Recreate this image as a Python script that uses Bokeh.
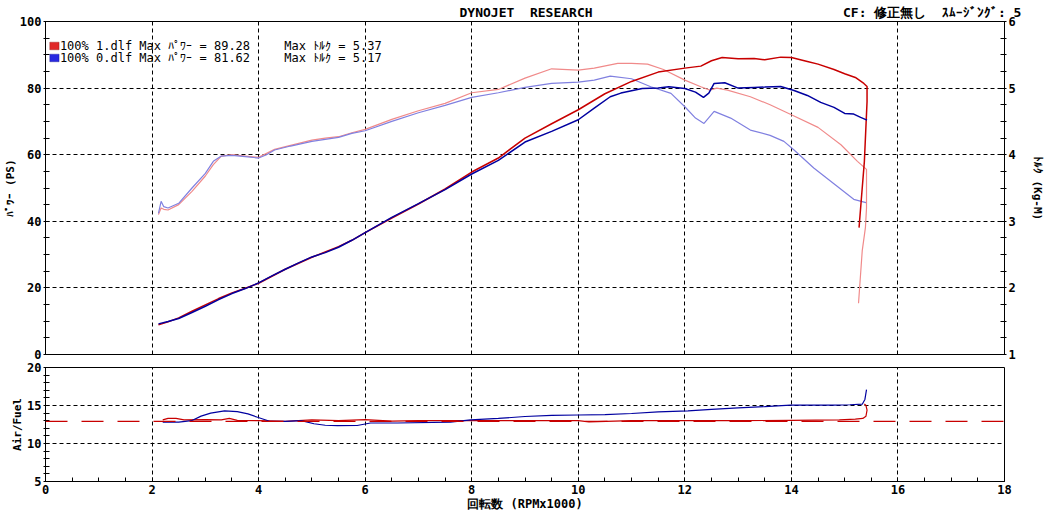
from bokeh.plotting import figure
from bokeh.models import Range1d, LinearAxis, FixedTicker, Label, BoxAnnotation, Span, Grid, Title
from bokeh.layouts import column
from bokeh.embed import file_html
from bokeh.resources import INLINE

# ---------------- data ----------------
x_ticks = [0, 2, 4, 6, 8, 10, 12, 14, 16, 18]
power_ticks = [0, 20, 40, 60, 80, 100]
torque_ticks = [1, 2, 3, 4, 5, 6]
af_ticks = [5, 10, 15, 20]

run_names = ["100% 1.dlf", "100% 0.dlf"]
max_power = [89.28, 81.62]
max_torque = [5.37, 5.17]
af_target = 12.9

pw1_rpm = [2.12, 2.3, 2.5, 2.75, 3.0, 3.25, 3.5, 3.75, 4.0, 4.25, 4.5, 4.75, 5.0, 5.25, 5.5, 5.75,
           6.0, 6.5, 7.0, 7.5, 8.0, 8.5, 9.0, 9.5, 10.0, 10.5, 11.0, 11.5, 12.0, 12.3, 12.5, 12.7,
           13.0, 13.3, 13.5, 13.8, 14.0, 14.3, 14.5, 14.8, 15.0, 15.2, 15.36, 15.42, 15.42, 15.37,
           15.31, 15.27]
pw1 = [8.9, 9.8, 11.0, 13.0, 14.9, 16.8, 18.5, 19.9, 21.4, 23.5, 25.6, 27.4, 29.2, 30.8, 32.4, 34.3,
       36.6, 41.0, 45.2, 49.7, 54.8, 59.0, 65.0, 69.3, 73.5, 78.3, 82.0, 84.8, 86.0, 86.6, 88.2, 89.2,
       88.8, 88.9, 88.5, 89.3, 89.2, 88.0, 87.2, 85.6, 84.3, 83.2, 81.4, 80.5, 75.9, 58.0,
       46.1, 38.1]

pw0_rpm = [2.12, 2.3, 2.5, 2.75, 3.0, 3.25, 3.5, 3.75, 4.0, 4.25, 4.5, 4.75, 5.0, 5.25, 5.5, 5.75,
           6.0, 6.5, 7.0, 7.5, 8.0, 8.5, 9.0, 9.5, 10.0, 10.3, 10.6, 10.8, 11.2, 11.5, 11.7, 12.0,
           12.2, 12.35, 12.45, 12.55, 12.75, 13.0, 13.3, 13.5, 13.8, 14.05, 14.3, 14.55, 14.8, 15.0,
           15.17, 15.3, 15.42]
pw0 = [9.2, 9.9, 10.8, 12.6, 14.5, 16.5, 18.3, 19.8, 21.5, 23.6, 25.6, 27.5, 29.3, 30.6, 32.2, 34.3,
       36.6, 41.2, 45.3, 49.5, 54.2, 58.3, 63.8, 67.0, 70.5, 74.0, 77.4, 78.5, 79.9, 80.0, 80.4, 79.9,
       78.8, 77.2, 78.5, 81.4, 81.6, 80.0, 80.2, 80.3, 80.5, 79.3, 77.8, 75.7, 74.2, 72.4,
       72.2, 71.2, 70.4]

tq1_rpm = [2.12, 2.17, 2.22, 2.3, 2.5, 2.75, 3.0, 3.15, 3.3, 3.5, 3.75, 4.0, 4.15, 4.3, 4.6, 5.0,
           5.25, 5.5, 5.75, 6.0, 6.5, 7.0, 7.5, 8.0, 8.5, 9.0, 9.5, 10.0, 10.3, 10.74, 11.0, 11.3,
           11.6, 12.0, 12.3, 12.47, 12.6, 12.8, 13.23, 13.6, 14.0, 14.5, 14.93, 15.24, 15.41, 15.41,
           15.39, 15.33, 15.26]
tq1 = [3.1, 3.2, 3.18, 3.17, 3.25, 3.45, 3.68, 3.85, 3.98, 4.0, 3.98, 3.96, 4.02, 4.08, 4.14, 4.22,
       4.25, 4.27, 4.33, 4.38, 4.53, 4.66, 4.77, 4.93, 4.98, 5.15, 5.29, 5.27, 5.3, 5.37, 5.37, 5.36,
       5.28, 5.12, 5.02, 4.97, 5.0, 4.97, 4.87, 4.75, 4.6, 4.41, 4.15, 3.9, 3.78, 3.2,
       2.91, 2.56, 1.77]

tq0_rpm = [2.12, 2.17, 2.22, 2.3, 2.5, 2.75, 3.0, 3.15, 3.3, 3.5, 3.75, 4.0, 4.15, 4.3, 4.6, 5.0,
           5.25, 5.5, 5.75, 6.0, 6.5, 7.0, 7.5, 8.0, 8.5, 9.0, 9.5, 10.0, 10.3, 10.6, 11.0, 11.36,
           11.74, 12.0, 12.2, 12.36, 12.55, 12.86, 13.23, 13.6, 13.86, 14.05, 14.42, 14.93, 15.17, 15.4]
tq0 = [3.12, 3.3, 3.22, 3.2, 3.27, 3.5, 3.72, 3.9, 3.98, 3.99, 3.97, 3.95, 4.0, 4.07, 4.13, 4.2,
       4.23, 4.26, 4.32, 4.36, 4.5, 4.63, 4.74, 4.86, 4.93, 5.01, 5.07, 5.09, 5.12, 5.18, 5.14, 5.02,
       4.92, 4.72, 4.55, 4.47, 4.65, 4.55, 4.37, 4.29, 4.2, 4.07, 3.8, 3.48, 3.33, 3.28]

af1_rpm = [2.2, 2.3, 2.45, 2.6, 3.0, 3.3, 3.45, 3.6, 4.0, 4.5, 5.0, 5.5, 6.0, 6.5, 7.0, 8.0, 9.0,
           10.0, 10.2, 11.0, 12.0, 13.0, 14.0, 14.9, 15.2, 15.34, 15.4, 15.42, 15.4, 15.37]
af1 = [13.1, 13.3, 13.3, 13.1, 13.15, 13.1, 13.3, 13.05, 13.0, 12.9, 13.1, 13.0, 13.15, 12.95, 13.0,
       13.0, 13.0, 13.0, 12.85, 13.0, 13.0, 13.0, 13.05, 13.1, 13.2, 13.3, 13.6, 14.4, 15.0, 15.2]

af0_rpm = [2.2, 2.5, 2.74, 2.92, 3.1, 3.36, 3.6, 3.8, 3.98, 4.22, 4.5, 4.8, 5.04, 5.25, 5.48, 5.85,
           6.1, 6.6, 7.6, 7.98, 8.5, 9.0, 9.5, 10.0, 10.5, 11.0, 11.5, 12.06, 12.5, 13.0, 13.5, 13.98,
           14.5, 14.8, 15.1, 15.33, 15.38, 15.41]
af0 = [12.8, 12.8, 13.0, 13.6, 14.0, 14.3, 14.2, 13.9, 13.45, 12.9, 12.9, 13.0, 12.6, 12.4, 12.35, 12.37,
       12.7, 12.7, 12.8, 13.1, 13.3, 13.55, 13.7, 13.75, 13.8, 13.95, 14.15, 14.3, 14.5, 14.7, 14.85, 15.04,
       15.05, 15.04, 15.1, 15.17, 15.8, 17.1]

header_left = "DYNOJET  RESEARCH"
header_right = "CF: 修正無し  ｽﾑｰｼﾞﾝｸﾞ: 5"

# ---------------- style ----------------
RED = "#c80000"
BLUE = "#0000a0"
LRED = "#f08a8a"
LBLUE = "#8080e0"
NUM_FONT = "DejaVu Sans Mono"
NBSP = "\u00a0"


def minor(ticks, n):
    out = []
    for a, b in zip(ticks[:-1], ticks[1:]):
        step = (b - a) / n
        out += [a + step * k for k in range(1, n)]
    return out


def style_axis(ax):
    ax.axis_line_color = "black"
    ax.major_tick_in = 4
    ax.major_tick_out = 2
    ax.minor_tick_in = 4
    ax.minor_tick_out = 2
    ax.major_tick_line_color = "black"
    ax.minor_tick_line_color = "black"
    ax.major_label_text_font = NUM_FONT
    ax.major_label_text_font_style = "bold"
    ax.major_label_text_font_size = "12px"
    ax.major_label_text_color = "black"
    ax.major_label_standoff = 2
    ax.axis_label_text_font = NUM_FONT
    ax.axis_label_text_font_style = "bold"
    ax.axis_label_text_font_size = "11px"
    ax.axis_label_text_color = "black"
    ax.axis_label_standoff = 0


# ---------------- top panel ----------------
p = figure(width=1051, height=361, x_range=Range1d(0, 18), y_range=Range1d(0, 100),
           output_backend="svg", toolbar_location=None, x_axis_location=None,
           min_border_left=44, min_border_right=47, min_border_top=19, min_border_bottom=7,
           background_fill_color="white", border_fill_color="white")
p.outline_line_color = "black"
p.outline_line_width = 1
p.grid.visible = False
p.extra_y_ranges = {"tq": Range1d(1, 6)}

p.yaxis.ticker = FixedTicker(ticks=power_ticks, minor_ticks=minor(power_ticks, 4))
p.yaxis.axis_label = "ﾊﾟﾜｰ (PS)"
style_axis(p.yaxis[0])

rax = LinearAxis(y_range_name="tq", ticker=FixedTicker(ticks=torque_ticks, minor_ticks=minor(torque_ticks, 4)),
                 axis_label="ﾄﾙｸ (Kg-M)")
style_axis(rax)
rax.axis_label_standoff = 12
p.add_layout(rax, "right")

header = header_left.replace(" ", NBSP) + NBSP * 32 + header_right.replace(" ", NBSP)
p.add_layout(Title(text=header, align="left", offset=414, standoff=4, text_font=NUM_FONT,
                   text_font_style="bold", text_font_size="13px", text_color="black"), "above")

p.add_layout(Grid(dimension=0, ticker=FixedTicker(ticks=x_ticks[1:-1]), grid_line_color="black",
                  grid_line_dash="4 3", grid_line_width=1))
p.add_layout(Grid(dimension=1, ticker=FixedTicker(ticks=power_ticks[1:-1]), grid_line_color="black",
                  grid_line_dash="4 3", grid_line_width=1))

p.line(tq1_rpm, tq1, y_range_name="tq", line_color=LRED, line_width=1.2)
p.line(tq0_rpm, tq0, y_range_name="tq", line_color=LBLUE, line_width=1.2)
p.line(pw1_rpm, pw1, line_color=RED, line_width=1.5)
p.line(pw0_rpm, pw0, line_color=BLUE, line_width=1.5)

# legend
for i, (col, edge) in enumerate([("#e02828", "#700000"), ("#2828e0", "#000070")]):
    ytop = 93.8 - i * 3.6
    p.add_layout(BoxAnnotation(left=0.08, right=0.255, top=ytop, bottom=ytop - 2.3,
                               fill_color=col, fill_alpha=1, line_color=edge, line_width=1,
                               level="overlay"))
    yc = ytop - 1.15
    p.add_layout(Label(x=0.27, y=yc, text=f"{run_names[i]} Max ﾊﾟﾜｰ = {max_power[i]:.2f}",
                       text_font=NUM_FONT, text_font_size="12px", text_baseline="middle",
                       text_color="black"))
    p.add_layout(Label(x=4.48, y=yc, text=f"Max ﾄﾙｸ = {max_torque[i]:.2f}",
                       text_font=NUM_FONT, text_font_size="12px", text_baseline="middle",
                       text_color="black"))

# ---------------- bottom panel ----------------
q = figure(width=1051, height=152, x_range=p.x_range, y_range=Range1d(5, 20),
           output_backend="svg", toolbar_location=None,
           min_border_left=44, min_border_right=47, min_border_top=6, min_border_bottom=31,
           background_fill_color="white", border_fill_color="white")
q.outline_line_color = "black"
q.grid.visible = False
q.xaxis.ticker = FixedTicker(ticks=x_ticks, minor_ticks=minor(x_ticks, 4))
q.xaxis.axis_label = "回転数 (RPMx1000)"
style_axis(q.xaxis[0])
q.xaxis.major_tick_out = 0
q.xaxis.minor_tick_out = 0
q.xaxis.major_label_standoff = 3
q.xaxis.axis_label_text_font_size = "12px"
q.yaxis.ticker = FixedTicker(ticks=af_ticks, minor_ticks=minor(af_ticks, 5))
q.yaxis.axis_label = "Air/Fuel"
style_axis(q.yaxis[0])

q.add_layout(Grid(dimension=0, ticker=FixedTicker(ticks=x_ticks[1:-1]), grid_line_color="black",
                  grid_line_dash="4 3", grid_line_width=1))
q.add_layout(Grid(dimension=1, ticker=FixedTicker(ticks=af_ticks[1:-1]), grid_line_color="black",
                  grid_line_dash="4 3", grid_line_width=1))

q.add_layout(Span(location=af_target, dimension="width", line_color=RED, line_width=1.2,
                  line_dash="22 14"))
q.line(af1_rpm, af1, line_color=RED, line_width=1.2)
q.line(af0_rpm, af0, line_color=BLUE, line_width=1.2)

layout = column(p, q, spacing=0)
open("out.html", "w").write(file_html(layout, INLINE))
